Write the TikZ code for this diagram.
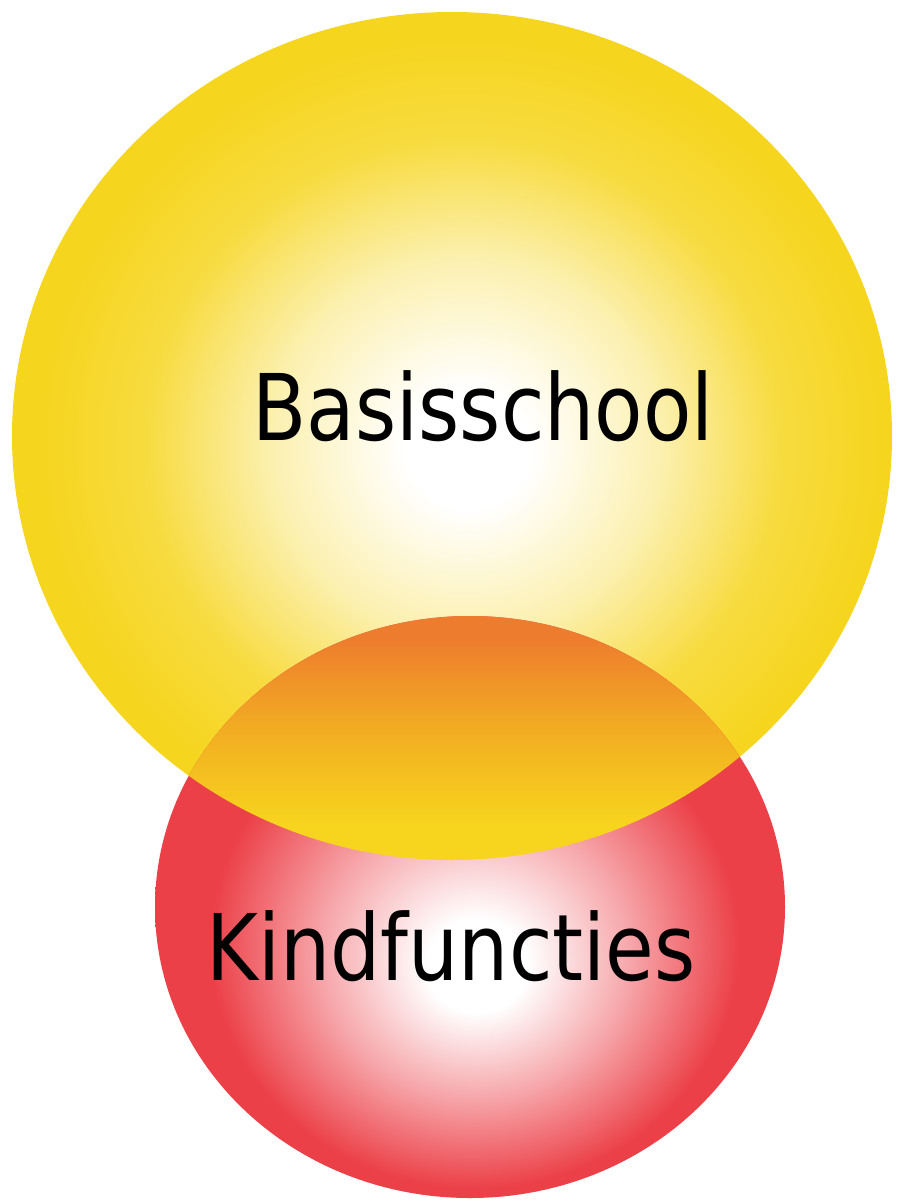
\documentclass[tikz,border=0pt]{standalone}
\usepackage{fontspec}
\newfontfamily\ballfont[FakeStretch=0.86]{DejaVu Sans}
\definecolor{ballyellow}{RGB}{246,213,30}
\definecolor{ballred}{RGB}{236,64,72}
\definecolor{mixorange}{RGB}{238,124,46}
\definecolor{mixmid}{RGB}{242,172,34}
\definecolor{mixyellow}{RGB}{247,212,30}
\pgfdeclareradialshading{yellowball}{\pgfpoint{1bp}{-0.8bp}}{color(0bp)=(white); color(3.5bp)=(white); color(11bp)=(ballyellow!35!white); color(18bp)=(ballyellow!85!white); color(24bp)=(ballyellow); color(50bp)=(ballyellow)}
\pgfdeclareradialshading{redball}{\pgfpoint{0.6bp}{-5.5bp}}{color(0bp)=(white); color(4bp)=(white); color(12bp)=(ballred!45!white); color(21bp)=(ballred); color(50bp)=(ballred)}
\pgfdeclareverticalshading{mixshade}{100bp}{color(0bp)=(mixyellow); color(33bp)=(mixyellow); color(52bp)=(mixmid); color(70bp)=(mixorange); color(100bp)=(mixorange)}

\tikzset{every picture/.style={line width=0.75pt}}
\tikzset{balltext/.style={font=\ballfont\fontsize{69}{80}\selectfont, anchor=base, text=black, inner sep=0pt}}

\begin{document}
\begin{tikzpicture}[x=0.75pt,y=0.75pt,yscale=-1,xscale=1]
	\useasboundingbox (0,0) rectangle (902,1202);

	%Shape: Ellipse (Basisschool)
	\path [shading=yellowball] (452,436) ellipse [x radius=440, y radius=424];
	%Shape: Ellipse (Kindfuncties)
	\path [shading=redball] (470,907) ellipse [x radius=315, y radius=291];
	%Shape: Overlap
	\begin{scope}
		\clip (452,436) ellipse [x radius=440, y radius=424];
		\clip (470,907) ellipse [x radius=315, y radius=291];
		\path [shading=mixshade] (150,612) rectangle (790,864);
	\end{scope}

	% Text Node
	\node [balltext] (basis) at (483,440) {Basisschool};
	% Text Node
	\node [balltext] (kind) at (451,980) {Kindfuncties};

\end{tikzpicture}
\end{document}
